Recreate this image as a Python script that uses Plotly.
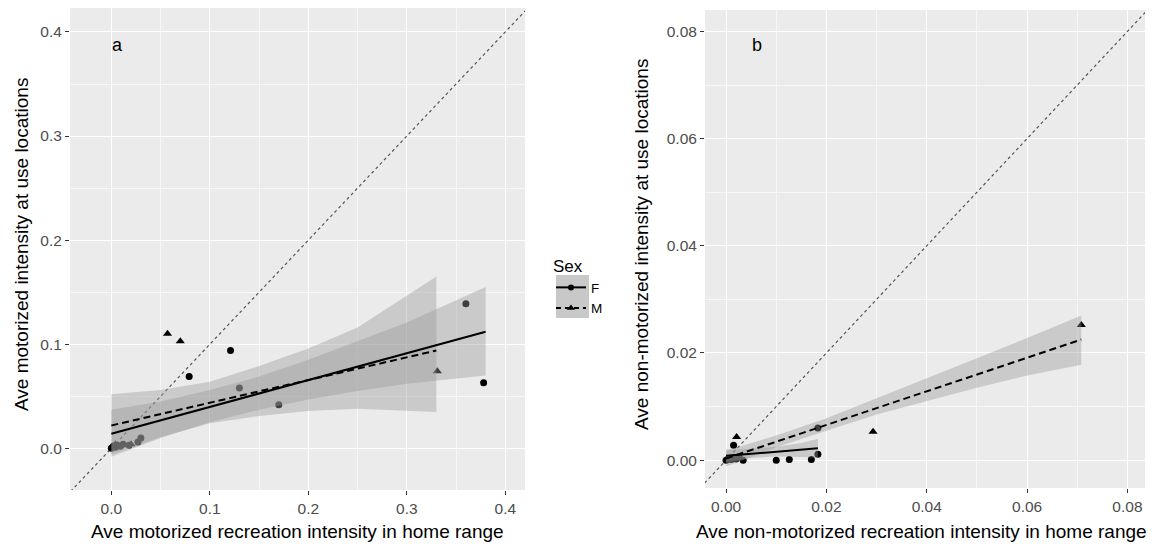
import plotly.graph_objects as go

# ---------------- Panel a data (motorized) ----------------
a_F_x = [0.0, 0.002, 0.004, 0.006, 0.009, 0.012, 0.018, 0.027, 0.030, 0.079, 0.121, 0.130, 0.170, 0.360, 0.378]
a_F_y = [0.0, 0.002, 0.001, 0.003, 0.002, 0.004, 0.003, 0.006, 0.010, 0.069, 0.094, 0.058, 0.042, 0.139, 0.063]
a_M_x = [0.001, 0.004, 0.020, 0.057, 0.070, 0.331]
a_M_y = [0.002, 0.004, 0.004, 0.110, 0.103, 0.074]

a_F_line_x = [0.0, 0.38]
a_F_line_y = [0.014, 0.112]
a_M_line_x = [0.0, 0.33]
a_M_line_y = [0.022, 0.094]

a_F_band_x = [0.0, 0.05, 0.10, 0.15, 0.20, 0.25, 0.30, 0.38]
a_F_band_lo = [-0.008, 0.010, 0.025, 0.037, 0.047, 0.055, 0.062, 0.070]
a_F_band_hi = [0.037, 0.045, 0.056, 0.069, 0.085, 0.103, 0.121, 0.155]
a_M_band_x = [0.0, 0.05, 0.10, 0.15, 0.20, 0.25, 0.33]
a_M_band_lo = [-0.006, 0.011, 0.024, 0.031, 0.036, 0.038, 0.035]
a_M_band_hi = [0.052, 0.056, 0.064, 0.079, 0.096, 0.116, 0.165]

diag_a = [-0.1, 0.5]
a_ticks = [0.0, 0.1, 0.2, 0.3, 0.4]
a_ticktext = ["0.0", "0.1", "0.2", "0.3", "0.4"]

# ---------------- Panel b data (non-motorized) ----------------
b_F_x = [0.0, 0.0005, 0.001, 0.0015, 0.002, 0.0026, 0.0034, 0.0015, 0.010, 0.0126, 0.017, 0.0183, 0.0183]
b_F_y = [0.0, 0.0003, 0.0001, 0.0005, 0.0002, 0.0006, 0.0, 0.0028, 0.0, 0.0001, 0.0001, 0.0011, 0.0060]
b_M_x = [0.0021, 0.0293, 0.0708]
b_M_y = [0.0043, 0.0053, 0.0252]

b_F_line_x = [0.0, 0.0183]
b_F_line_y = [0.0008, 0.0022]
b_M_line_x = [0.0, 0.0708]
b_M_line_y = [0.0003, 0.0225]

b_F_band_x = [0.0, 0.005, 0.010, 0.015, 0.0183]
b_F_band_lo = [-0.0004, 0.0004, 0.0007, 0.0006, 0.0004]
b_F_band_hi = [0.0020, 0.0021, 0.0025, 0.0032, 0.0040]
b_M_band_x = [0.0, 0.01, 0.02, 0.03, 0.04, 0.05, 0.06, 0.0708]
b_M_band_lo = [-0.0012, 0.0024, 0.0055, 0.0085, 0.0110, 0.0135, 0.0158, 0.0178]
b_M_band_hi = [0.0018, 0.0046, 0.0078, 0.0115, 0.0152, 0.0190, 0.0228, 0.0270]

diag_b = [-0.01, 0.1]
b_ticks = [0.0, 0.02, 0.04, 0.06, 0.08]
b_ticktext = ["0.00", "0.02", "0.04", "0.06", "0.08"]

BAND = "rgba(153,153,153,0.4)"
FONT = "Liberation Sans, Arial, sans-serif"
DASH = "7px,4px"

fig = go.Figure()


def add_panel(xa, ya, Fx, Fy, Mx, My, Flx, Fly, Mlx, Mly,
              Fbx, Fblo, Fbhi, Mbx, Mblo, Mbhi, diag):
    # identity line
    fig.add_trace(go.Scatter(x=diag, y=diag, mode="lines", xaxis=xa, yaxis=ya,
                             line=dict(color="#555555", width=1.2, dash="dot"),
                             showlegend=False, hoverinfo="skip"))
    # points
    fig.add_trace(go.Scatter(x=Fx, y=Fy, mode="markers", xaxis=xa, yaxis=ya,
                             marker=dict(symbol="circle", size=7, color="black"),
                             showlegend=False))
    fig.add_trace(go.Scatter(x=Mx, y=My, mode="markers", xaxis=xa, yaxis=ya,
                             marker=dict(symbol="triangle-up", size=8, color="black"),
                             showlegend=False))
    # bands (drawn over points, like geom_smooth after geom_point)
    for bx, lo, hi in ((Fbx, Fblo, Fbhi), (Mbx, Mblo, Mbhi)):
        fig.add_trace(go.Scatter(x=bx + bx[::-1], y=hi + lo[::-1], mode="lines",
                                 xaxis=xa, yaxis=ya, fill="toself", fillcolor=BAND,
                                 line=dict(width=0), showlegend=False, hoverinfo="skip"))
    # fitted lines
    fig.add_trace(go.Scatter(x=Flx, y=Fly, mode="lines", xaxis=xa, yaxis=ya,
                             line=dict(color="black", width=2), showlegend=False))
    fig.add_trace(go.Scatter(x=Mlx, y=Mly, mode="lines", xaxis=xa, yaxis=ya,
                             line=dict(color="black", width=2, dash=DASH), showlegend=False))


add_panel("x", "y", a_F_x, a_F_y, a_M_x, a_M_y, a_F_line_x, a_F_line_y, a_M_line_x, a_M_line_y,
          a_F_band_x, a_F_band_lo, a_F_band_hi, a_M_band_x, a_M_band_lo, a_M_band_hi, diag_a)
add_panel("x2", "y2", b_F_x, b_F_y, b_M_x, b_M_y, b_F_line_x, b_F_line_y, b_M_line_x, b_M_line_y,
          b_F_band_x, b_F_band_lo, b_F_band_hi, b_M_band_x, b_M_band_lo, b_M_band_hi, diag_b)

# legend-only traces
fig.add_trace(go.Scatter(x=[None], y=[None], mode="lines+markers", name="F",
                         line=dict(color="black", width=2),
                         marker=dict(symbol="circle", size=6, color="black")))
fig.add_trace(go.Scatter(x=[None], y=[None], mode="lines+markers", name="M",
                         line=dict(color="black", width=2, dash="5px,4px"),
                         marker=dict(symbol="triangle-up", size=7, color="black")))

W, H = 1160, 546
OFF = 8  # page body margin in the browser


def px(v):
    return (v - OFF) / W


def py(v):
    return 1 - (v - OFF) / H


axis_common = dict(showgrid=True, gridcolor="white", gridwidth=1.2, zeroline=False,
                   ticks="outside", ticklen=4, tickcolor="#333333", tickwidth=1,
                   tickfont=dict(family=FONT, size=15.5, color="#4D4D4D"),
                   showline=False)

fig.update_layout(
    width=W, height=H,
    margin=dict(l=0, r=0, t=0, b=0),
    paper_bgcolor="white",
    plot_bgcolor="#EBEBEB",
    font=dict(family=FONT),
    xaxis=dict(domain=[px(70), px(525)], range=[-0.042, 0.42], anchor="y",
               tickvals=a_ticks, ticktext=a_ticktext,
               minor=dict(dtick=0.05, tick0=0, showgrid=True, gridcolor="#F7F7F7", gridwidth=0.6, ticks=""),
               **axis_common),
    yaxis=dict(domain=[py(490), py(8)], range=[-0.040, 0.423], anchor="x",
               tickvals=a_ticks, ticktext=a_ticktext,
               minor=dict(dtick=0.05, tick0=0, showgrid=True, gridcolor="#F7F7F7", gridwidth=0.6, ticks=""),
               **axis_common),
    xaxis2=dict(domain=[px(705), px(1145)], range=[-0.0042, 0.0835], anchor="y2",
                tickvals=b_ticks, ticktext=b_ticktext,
                minor=dict(dtick=0.01, tick0=0, showgrid=True, gridcolor="#F7F7F7", gridwidth=0.6, ticks=""),
                **axis_common),
    yaxis2=dict(domain=[py(488), py(10)], range=[-0.0052, 0.084], anchor="x2",
                tickvals=b_ticks, ticktext=b_ticktext,
                minor=dict(dtick=0.01, tick0=0, showgrid=True, gridcolor="#F7F7F7", gridwidth=0.6, ticks=""),
                **axis_common),
    legend=dict(x=px(551), y=py(250), xanchor="left", yanchor="top",
                title=dict(text="Sex", font=dict(family=FONT, size=17, color="black")),
                font=dict(family=FONT, size=13.5, color="black"),
                bgcolor="rgba(0,0,0,0)", tracegroupgap=0, itemwidth=30),
    showlegend=True,
)

# grey key background in the legend
fig.add_shape(type="rect", xref="paper", yref="paper",
              x0=px(556), x1=px(589), y0=py(318), y1=py(275),
              fillcolor="#C8C8C8", line=dict(width=0), layer="below")

TF = dict(family=FONT, size=19, color="black")
ann = []
ann.append(dict(text="Ave motorized recreation intensity in home range", x=px(297.5), y=py(531),
                xref="paper", yref="paper", xanchor="center", yanchor="middle",
                showarrow=False, font=TF))
ann.append(dict(text="Ave motorized intensity at use locations", x=px(21), y=py(245),
                xref="paper", yref="paper", xanchor="center", yanchor="middle",
                showarrow=False, textangle=-90, font=TF))
ann.append(dict(text="Ave non-motorized recreation intensity in home range", x=px(921), y=py(531),
                xref="paper", yref="paper", xanchor="center", yanchor="middle",
                showarrow=False, font=TF))
ann.append(dict(text="Ave non-motorized intensity at use locations", x=px(641), y=py(245),
                xref="paper", yref="paper", xanchor="center", yanchor="middle",
                showarrow=False, textangle=-90, font=TF))
ann.append(dict(text="a", x=0.0067, y=0.387, xref="x", yref="y", showarrow=False,
                xanchor="center", yanchor="middle", font=dict(family=FONT, size=18, color="black")))
ann.append(dict(text="b", x=0.0062, y=0.0774, xref="x2", yref="y2", showarrow=False,
                xanchor="center", yanchor="middle", font=dict(family=FONT, size=18, color="black")))
fig.update_layout(annotations=ann)

fig.write_html("out.html")
